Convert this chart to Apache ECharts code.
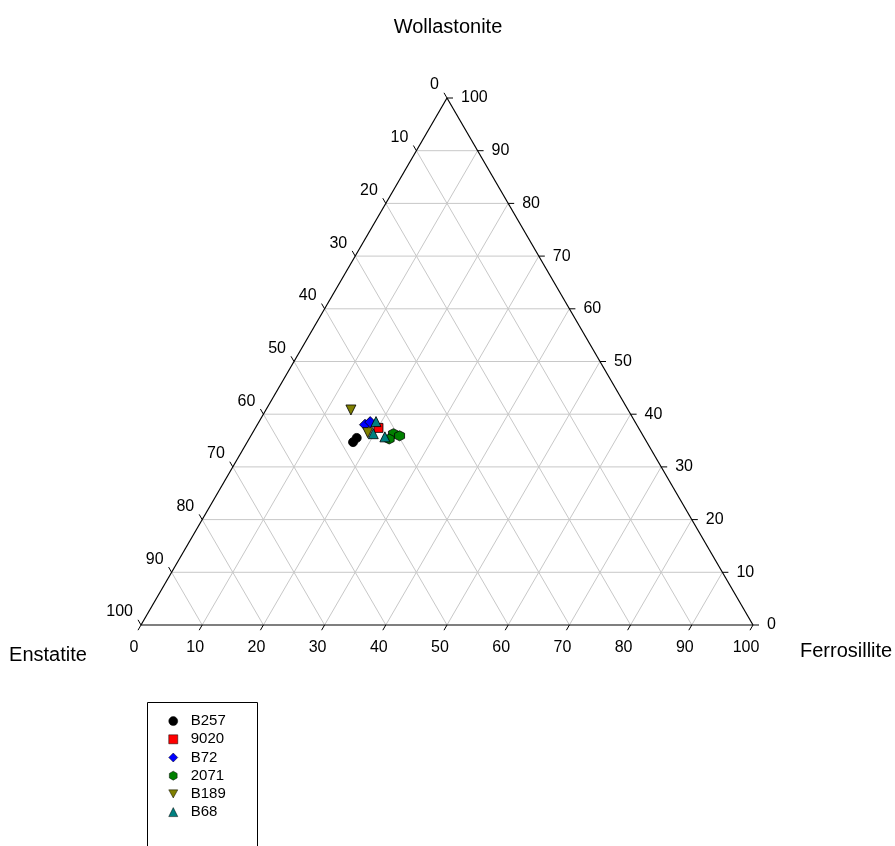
<!DOCTYPE html>
<html>
<head>
<meta charset="utf-8">
<script src="https://cdn.jsdelivr.net/npm/echarts@6/dist/echarts.min.js"></script>
<style>
  html, body { margin: 0; padding: 0; background: #fff; }
  #chart { width: 895px; height: 846px; }
</style>
</head>
<body>
<div id="chart"></div>
<script>
// Pyroxene compositions, each point as [Enstatite, Ferrosillite, Wollastonite] in %
const seriesNames = ['B257', '9020', 'B72', '2071', 'B189', 'B68'];
const B257 = [[47.0, 17.5, 35.5], [48.0, 17.3, 34.7]];
const S9020 = [[42.5, 20.1, 37.4]];
const B72 = [[44.4, 17.6, 38.0], [43.3, 18.2, 38.5]];
const S2071 = [[40.6, 23.1, 36.3], [39.8, 24.3, 35.9], [41.8, 22.9, 35.3]];
const B189 = [[45.3, 13.9, 40.8], [44.7, 18.8, 36.5]];
const B68 = [[42.2, 19.1, 38.6], [43.9, 19.8, 36.3], [42.3, 22.0, 35.7]];
const tickValues = [0, 10, 20, 30, 40, 50, 60, 70, 80, 90, 100];
const axisTitles = { top: 'Wollastonite', left: 'Enstatite', right: 'Ferrosillite' };

const FONT = '"Liberation Sans", Arial, sans-serif';
const H = Math.sqrt(3) / 2;

// ternary (En, Fs, Wo) -> cartesian on a 0..100 x 0..86.6 plane
function tern(en, fs, wo) { return [fs + wo / 2, wo * H]; }

const seriesData = [B257, S9020, B72, S2071, B189, B68];
const colors = ['#000000', '#ff0000', '#0000ff', '#008000', '#808000', '#008080'];
const hexagon = 'path://M5,0 L9.33,2.5 L9.33,7.5 L5,10 L0.67,7.5 L0.67,2.5 Z';
const triDown = 'path://M0,0 L10,0 L5,9 Z';
const symbols = ['circle', 'rect', 'diamond', hexagon, triDown, 'triangle'];
const sizes = [9, 9, 11, 10, 10, 10];

// grid lines at every 10 %
const gridSegs = [];
for (let k = 10; k <= 90; k += 10) {
  gridSegs.push([...tern(100 - k, 0, k), ...tern(0, 100 - k, k)]);   // Wo = k
  gridSegs.push([...tern(100 - k, k, 0), ...tern(0, k, 100 - k)]);   // Fs = k
  gridSegs.push([...tern(k, 100 - k, 0), ...tern(k, 0, 100 - k)]);   // En = k
}
const outline = [
  [...tern(100, 0, 0), ...tern(0, 100, 0)],
  [...tern(0, 100, 0), ...tern(0, 0, 100)],
  [...tern(0, 0, 100), ...tern(100, 0, 0)]
];

// ticks: [x, y, side, value]  side 0 = bottom (Fs), 1 = left (En), 2 = right (Wo)
const ticks = [];
tickValues.forEach(v => {
  ticks.push([...tern(100 - v, v, 0), 0, v]);
  ticks.push([...tern(v, 0, 100 - v), 1, v]);
  ticks.push([...tern(0, 100 - v, v), 2, v]);
});

const TICK = 6;
const dirs = [[-0.5, H], [-0.5, -H], [1, 0]];

function segRender(color, width) {
  return function (params, api) {
    const p1 = api.coord([api.value(0), api.value(1)]);
    const p2 = api.coord([api.value(2), api.value(3)]);
    return {
      type: 'line',
      shape: { x1: p1[0], y1: p1[1], x2: p2[0], y2: p2[1] },
      style: { stroke: color, lineWidth: width }
    };
  };
}

function tickRender(params, api) {
  const p = api.coord([api.value(0), api.value(1)]);
  const side = api.value(2);
  const v = api.value(3);
  const d = dirs[side];
  let tx, ty, align;
  if (side === 0) { tx = p[0] - 7; ty = p[1] + 23; align = 'center'; }
  else if (side === 1) { tx = p[0] - 8; ty = p[1] - 13; align = 'right'; }
  else { tx = p[0] + 14; ty = p[1]; align = 'left'; }
  return {
    type: 'group',
    children: [
      {
        type: 'line',
        shape: { x1: p[0], y1: p[1], x2: p[0] + d[0] * TICK, y2: p[1] + d[1] * TICK },
        style: { stroke: '#000', lineWidth: 1 }
      },
      {
        type: 'text',
        x: tx, y: ty,
        style: {
          text: String(v), fill: '#000', font: '16px ' + FONT,
          align: align, verticalAlign: 'middle'
        }
      }
    ]
  };
}

const series = [
  {
    type: 'custom', name: 'grid', silent: true, clip: false, z: 1,
    data: gridSegs, renderItem: segRender('#c8c8c8', 1)
  },
  {
    type: 'custom', name: 'outline', silent: true, clip: false, z: 2,
    data: outline, renderItem: segRender('#000000', 1.2)
  },
  {
    type: 'custom', name: 'ticks', silent: true, clip: false, z: 2,
    data: ticks, renderItem: tickRender
  }
];

seriesNames.forEach((name, i) => {
  series.push({
    type: 'scatter',
    name: name,
    z: 5,
    symbol: symbols[i],
    symbolSize: sizes[i],
    itemStyle: { color: colors[i], borderColor: '#000', borderWidth: 0.8, opacity: 1 },
    data: seriesData[i].map(p => tern(p[0], p[1], p[2]))
  });
});

const chart = echarts.init(document.getElementById('chart'), null, { renderer: 'canvas' });
chart.setOption({
  animation: false,
  backgroundColor: '#fff',
  grid: { left: 141, top: 98, width: 612, height: 527, containLabel: false },
  xAxis: { type: 'value', min: 0, max: 100, show: false },
  yAxis: { type: 'value', min: 0, max: 100 * H, show: false },
  legend: {
    data: seriesNames,
    orient: 'vertical',
    left: 168.5,
    top: 712,
    itemWidth: 9,
    itemHeight: 9,
    itemGap: 0,
    padding: 0,
    itemStyle: { borderWidth: 0.5 },
    textStyle: { fontSize: 15, fontFamily: FONT, color: '#000', lineHeight: 18.2, padding: [0, 0, 0, 8] }
  },
  graphic: [
    {
      type: 'rect', silent: true,
      shape: { x: 147.5, y: 702.5, width: 110, height: 170 },
      style: { fill: 'none', stroke: '#000', lineWidth: 1 }
    },
    {
      type: 'text', x: 448, y: 27,
      style: { text: axisTitles.top, font: '20px ' + FONT, fill: '#000', align: 'center', verticalAlign: 'middle' }
    },
    {
      type: 'text', x: 48, y: 655,
      style: { text: axisTitles.left, font: '20px ' + FONT, fill: '#000', align: 'center', verticalAlign: 'middle' }
    },
    {
      type: 'text', x: 800, y: 651,
      style: { text: axisTitles.right, font: '20px ' + FONT, fill: '#000', align: 'left', verticalAlign: 'middle' }
    }
  ],
  series: series
});
</script>
</body>
</html>
